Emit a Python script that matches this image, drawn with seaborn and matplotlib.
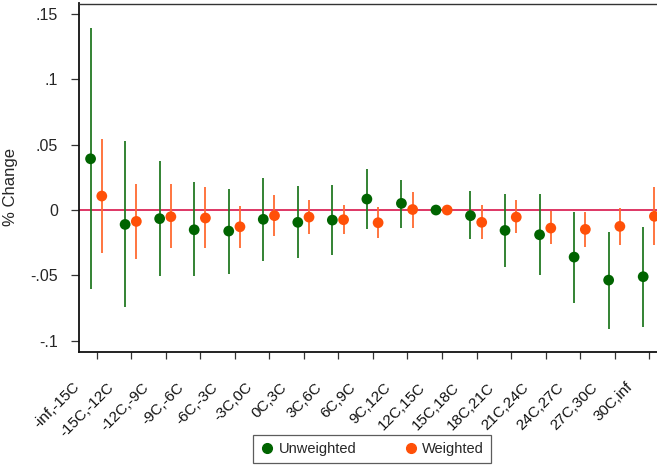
import numpy as np
import pandas as pd
import matplotlib
matplotlib.use("Agg")
import matplotlib.pyplot as plt
import matplotlib.transforms as mtransforms
from matplotlib.lines import Line2D
import seaborn as sns

# Temperature bins (12C-15C is the omitted reference bin)
bins = ["-inf,-15C", "-15C,-12C", "-12C,-9C", "-9C,-6C", "-6C,-3C", "-3C,0C",
        "0C,3C", "3C,6C", "6C,9C", "9C,12C", "12C,15C", "15C,18C", "18C,21C",
        "21C,24C", "24C,27C", "27C,30C", "30C,inf"]

unweighted = [0.0392, -0.0110, -0.0066, -0.0151, -0.0161, -0.0071, -0.0094,
              -0.0077, 0.0084, 0.0051, 0.0, -0.0043, -0.0156, -0.0189,
              -0.0360, -0.0536, -0.0510]
unweighted_lo = [-0.0607, -0.0745, -0.0503, -0.0508, -0.0490, -0.0390, -0.0370,
                 -0.0342, -0.0145, -0.0135, 0.0, -0.0224, -0.0434, -0.0495,
                 -0.0709, -0.0908, -0.0893]
unweighted_hi = [0.1390, 0.0528, 0.0375, 0.0212, 0.0161, 0.0245, 0.0181,
                 0.0191, 0.0311, 0.0232, 0.0, 0.0143, 0.0122, 0.0120,
                 -0.0015, -0.0168, -0.0132]

weighted = [0.0107, -0.0087, -0.0051, -0.0061, -0.0128, -0.0043, -0.0054,
            -0.0074, -0.0097, 0.0004, 0.0, -0.0094, -0.0054, -0.0138,
            -0.0148, -0.0125, -0.0048]
weighted_lo = [-0.0327, -0.0375, -0.0293, -0.0293, -0.0291, -0.0196, -0.0186,
               -0.0186, -0.0217, -0.0135, 0.0, -0.0224, -0.0179, -0.0263,
               -0.0283, -0.0265, -0.0270]
weighted_hi = [0.0543, 0.0199, 0.0199, 0.0174, 0.0031, 0.0112, 0.0077,
               0.0038, 0.0023, 0.0140, 0.0, 0.0036, 0.0074, -0.0010,
               -0.0015, 0.0013, 0.0176]

y_ticks = [-0.1, -0.05, 0, 0.05, 0.1, 0.15]
y_tick_labels = ["-.1", "-.05", "0", ".05", ".1", ".15"]

GREEN = "#006400"
GREEN_BAR = "#237a23"
ORANGE = "#FF5008"
ORANGE_BAR = "#FF6a30"
ZERO = "#D4003A"

sns.set_style("white")
plt.rcParams["font.family"] = ["Liberation Sans", "DejaVu Sans"]

idx = np.arange(len(bins))
df = pd.concat([
    pd.DataFrame({"pos": idx - 0.175, "est": unweighted, "lo": unweighted_lo,
                  "hi": unweighted_hi, "series": "Unweighted"}),
    pd.DataFrame({"pos": idx + 0.15, "est": weighted, "lo": weighted_lo,
                  "hi": weighted_hi, "series": "Weighted"}),
], ignore_index=True)

fig = plt.figure(figsize=(6.57, 4.68), dpi=100)
ax = fig.add_axes([79 / 657, 1 - 352 / 468, 587.5 / 657, 348.5 / 468])

ax.axhline(0, color=ZERO, lw=1.1, zorder=1)

bar_colors = {"Unweighted": GREEN_BAR, "Weighted": ORANGE_BAR}
for name, sub in df.groupby("series"):
    ax.vlines(sub["pos"], sub["lo"], sub["hi"], color=bar_colors[name],
              lw=1.3, zorder=2)

sns.scatterplot(data=df, x="pos", y="est", hue="series",
                palette={"Unweighted": GREEN, "Weighted": ORANGE},
                s=60, edgecolor="none", linewidth=0, legend=False,
                zorder=3, ax=ax)

ax.set_xlim(-0.51, 16.5)
ax.set_ylim(-0.1086, 0.158)
ax.set_yticks(y_ticks)
ax.set_yticklabels(y_tick_labels)
ax.set_xticks(idx)
ax.set_xticklabels([])

# Slanted bin labels, set down and to the left of each tick
label_tf = ax.get_xaxis_transform() + mtransforms.ScaledTranslation(
    -14 / 100, -28 / 100, fig.dpi_scale_trans)
for i, name in zip(idx, bins):
    ax.text(i, 0, name, transform=label_tf, rotation=45, ha="right",
            va="top", fontsize=11, color="#111111", clip_on=False)

ax.set_xlabel("")
ax.set_ylabel("% Change", fontsize=12)
ax.yaxis.set_label_coords(-0.103, 0.473)
ax.tick_params(axis="y", direction="out", length=6, width=0.9,
               color="#333333", labelsize=11.5, pad=9, left=True)
ax.tick_params(axis="x", direction="out", length=5, width=0.9,
               color="#333333", bottom=True)

for side in ["left", "bottom", "top", "right"]:
    ax.spines[side].set_visible(True)
    ax.spines[side].set_color("#111111")
    ax.spines[side].set_linewidth(1.3)
ax.spines["top"].set_color("#333333")
ax.spines["top"].set_linewidth(1.0)

handles = [
    Line2D([], [], marker="o", ls="none", color=GREEN, markersize=7,
           label="Unweighted"),
    Line2D([], [], marker="o", ls="none", color=ORANGE, markersize=7,
           label="Weighted"),
]
leg = fig.legend(handles=handles, loc="center", bbox_to_anchor=(372 / 657, 1 - 449 / 468),
                 ncol=2, frameon=True, fancybox=False, fontsize=10.5,
                 handletextpad=0.3, columnspacing=3.2, handlelength=1.0,
                 borderpad=0.5, edgecolor="#333333")
leg.get_frame().set_linewidth(0.9)

fig.savefig("out.png", dpi=100)
